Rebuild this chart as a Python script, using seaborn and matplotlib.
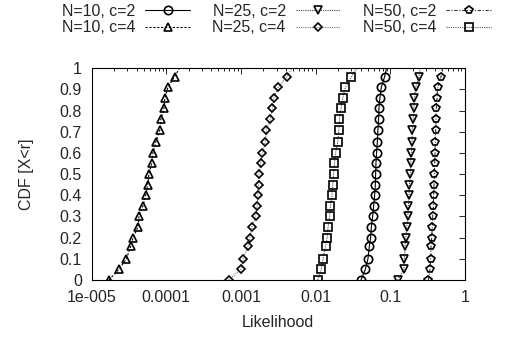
import numpy as np
import pandas as pd
import seaborn as sns
import matplotlib.pyplot as plt
from matplotlib.ticker import FixedLocator, LogLocator, NullFormatter

# CDF levels (last one has no marker, only the line continues to 1)
cdf = [0, 0.05, 0.10, 0.16, 0.20, 0.25, 0.30, 0.35, 0.40, 0.45, 0.50,
       0.55, 0.60, 0.65, 0.71, 0.76, 0.81, 0.86, 0.91, 0.96, 1.0]

n10_c2 = [0.0406, 0.0464, 0.0503, 0.0525, 0.0546, 0.0558, 0.0581, 0.0599, 0.0618, 0.0631, 0.0637,
          0.0643, 0.0656, 0.0671, 0.0684, 0.0698, 0.0705, 0.0727, 0.0759, 0.0840, 0.089]
n10_c4 = [1.70e-5, 2.33e-5, 2.93e-5, 3.34e-5, 3.59e-5, 4.18e-5, 4.31e-5, 4.88e-5, 5.30e-5, 5.63e-5, 5.86e-5,
          6.37e-5, 6.62e-5, 7.19e-5, 8.22e-5, 8.47e-5, 9.29e-5, 9.57e-5, 1.05e-4, 1.29e-4, 1.50e-4]
n25_c2 = [0.126, 0.152, 0.155, 0.158, 0.162, 0.166, 0.172, 0.175, 0.179, 0.181, 0.185,
          0.188, 0.192, 0.196, 0.198, 0.203, 0.207, 0.211, 0.219, 0.244, 0.25]
n25_c4 = [6.84e-4, 1.00e-3, 1.08e-3, 1.24e-3, 1.32e-3, 1.40e-3, 1.58e-3, 1.65e-3, 1.69e-3, 1.72e-3, 1.75e-3,
          1.83e-3, 1.94e-3, 2.11e-3, 2.19e-3, 2.48e-3, 2.64e-3, 2.78e-3, 3.14e-3, 4.10e-3, 4.83e-3]
n50_c2 = [0.324, 0.341, 0.348, 0.352, 0.359, 0.366, 0.370, 0.378, 0.381, 0.386, 0.390,
          0.394, 0.398, 0.402, 0.406, 0.410, 0.414, 0.423, 0.432, 0.479, 0.50]
n50_c4 = [0.0107, 0.0119, 0.0126, 0.0136, 0.0143, 0.0147, 0.0154, 0.0158, 0.0166, 0.0170, 0.0174,
          0.0179, 0.0185, 0.0198, 0.0205, 0.0209, 0.0219, 0.0231, 0.0251, 0.0302, 0.0355]

x_ticks = [1e-5, 1e-4, 1e-3, 1e-2, 1e-1, 1]
x_labels = ['1e-005', '0.0001', '0.001', '0.01', '0.1', '1']
y_ticks = [0, 0.1, 0.2, 0.3, 0.4, 0.5, 0.6, 0.7, 0.8, 0.9, 1]
y_labels = ['0', '0.1', '0.2', '0.3', '0.4', '0.5', '0.6', '0.7', '0.8', '0.9', '1']

series = [
    ('N=10, c=2', n10_c2, 'o', '-', 'black'),
    ('N=10, c=4', n10_c4, '^', (0, (2, 1.5)), 'black'),
    ('N=25, c=2', n25_c2, 'v', (0, (1, 1)), '#444444'),
    ('N=25, c=4', n25_c4, 'D', (0, (1, 1)), '#777777'),
    ('N=50, c=2', n50_c2, 'p', (0, (3, 1.5, 1, 1.5)), '#333333'),
    ('N=50, c=4', n50_c4, 's', (0, (1, 1)), '#555555'),
]

sns.set_style('white')
plt.rcParams['font.family'] = ['Liberation Sans', 'DejaVu Sans']
FS = 11.5

fig = plt.figure(figsize=(5.12, 3.38), dpi=100)
ax = fig.add_axes([0.179, 0.172, 0.729, 0.626])

for name, vals, mk, ls, col in series:
    df = pd.DataFrame({'likelihood': vals, 'cdf': cdf})
    sns.lineplot(data=df, x='likelihood', y='cdf', ax=ax, sort=False, estimator=None,
                 label=name, color=col, linestyle=ls, linewidth=0.8,
                 marker=mk, markersize=6 if mk != 'D' else 4.5, markevery=list(range(20)),
                 markerfacecolor='none', markeredgecolor='black', markeredgewidth=1.2)

ax.set_xscale('log')
ax.set_xlim(1e-5, 1)
ax.set_ylim(0, 1)
ax.xaxis.set_major_locator(FixedLocator(x_ticks))
ax.set_xticklabels(x_labels)
ax.xaxis.set_minor_locator(LogLocator(base=10, subs=np.arange(2, 10)))
ax.xaxis.set_minor_formatter(NullFormatter())
ax.set_yticks(y_ticks)
ax.set_yticklabels(y_labels)

ax.tick_params(which='both', direction='in', top=True, right=True, labelsize=FS,
               color='black', width=0.6)
ax.tick_params(axis='x', pad=7)
ax.tick_params(axis='y', pad=7)
ax.tick_params(which='major', length=4)
ax.tick_params(which='minor', length=2)
for sp in ax.spines.values():
    sp.set_color('black')
    sp.set_linewidth(0.8)

ax.set_xlabel('Likelihood', fontsize=FS)
ax.set_ylabel('CDF [X<r]', fontsize=FS)
ax.xaxis.set_label_coords(0.5, -0.165)
ax.yaxis.set_label_coords(-0.155, 0.5)

ax.legend(loc='upper left', bbox_to_anchor=(0.121, 0.988), bbox_transform=fig.transFigure,
          ncol=3, frameon=False, markerfirst=False, fontsize=FS, handlelength=2.8,
          handletextpad=0.62, columnspacing=1.4, labelspacing=0.08, borderpad=0,
          borderaxespad=0)

fig.savefig('out.png', dpi=100)
